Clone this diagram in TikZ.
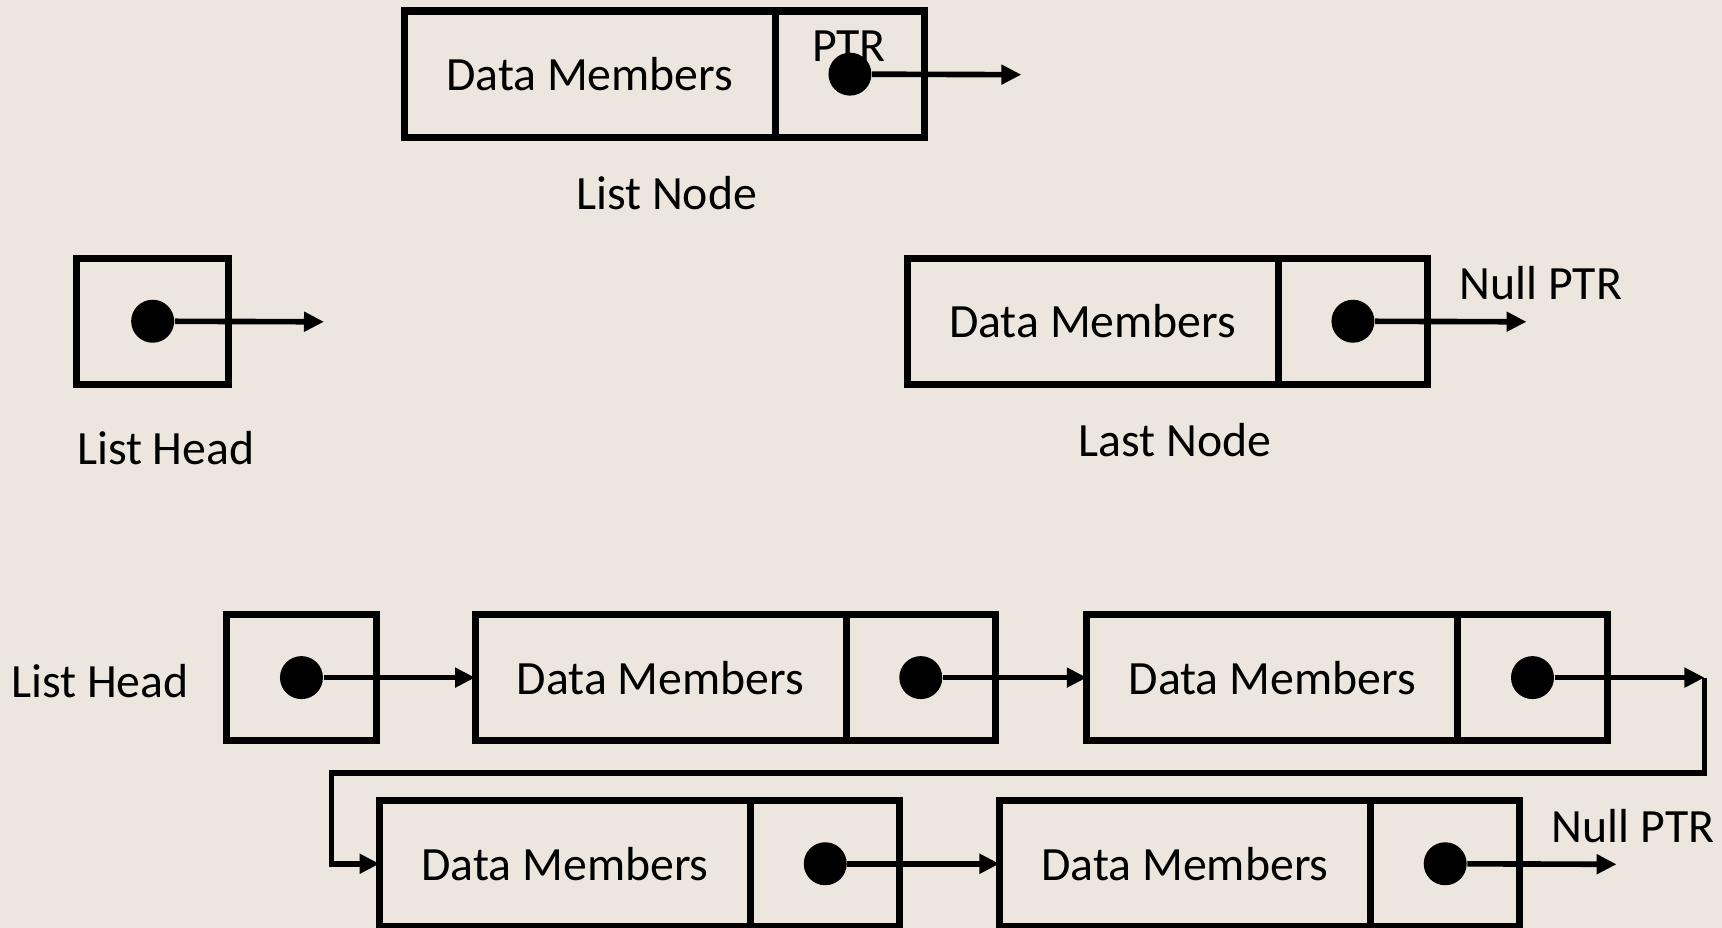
\documentclass[tikz,border=0pt]{standalone}
\usepackage{fontspec}
\setmainfont{Carlito}
\usetikzlibrary{positioning,arrows.meta}
\definecolor{slidebg}{RGB}{237,230,223}

\begin{document}
\begin{tikzpicture}[x=0.010982cm, y=-0.010982cm,
    every node/.style={font=\fontsize{13.6}{16}\selectfont},
    datacell/.style={draw, line width=2pt, outer sep=0pt, minimum width=3.712cm, minimum height=1.263cm, inner sep=0pt},
    ptrcell/.style={draw, line width=2pt, outer sep=0pt, minimum width=1.494cm, minimum height=1.263cm, inner sep=0pt},
    dot/.style={circle, fill, inner sep=0pt, minimum size=0.43cm},
    link/.style={line width=1.6pt, -{Triangle[length=0.2cm, width=0.19cm]}}]

    \fill[slidebg] (0,0) rectangle (1568,845);
    \useasboundingbox (0,0) rectangle (1568,845);

    % a single list node
    \node[datacell] (ln-data) at (537,67.5) {Data Members};
    \node[ptrcell, right=0pt of ln-data] (ln-ptr) {};
    \node (ln-ptrtext) at (773,42) {PTR};
    \node[dot] (ln-dot) at (ln-ptr) {};
    \coordinate (ln-end) at (930,68);
    \draw[link] (ln-dot) -- (ln-end);
    \node (ln-label) at (607,176) {List Node};

    % list head
    \node[ptrcell, minimum width=1.515cm] (lh-box) at (139,292.5) {};
    \node[dot] (lh-dot) at (lh-box) {};
    \coordinate (lh-end) at (295,293);
    \draw[link] (lh-dot) -- (lh-end);
    \node (lh-label) at (151,408) {List Head};

    % last node
    \node[datacell] (la-data) at (995,292.5) {Data Members};
    \node[ptrcell, right=0pt of la-data] (la-ptr) {};
    \node[dot] (la-dot) at (la-ptr) {};
    \coordinate (la-end) at (1390,293);
    \draw[link] (la-dot) -- (la-end);
    \node (la-null) at (1403,258) {Null PTR};
    \node (la-label) at (1070,401) {Last Node};

    % whole list
    \node (hd-label) at (91,620) {List Head};
    \node[ptrcell, minimum width=1.504cm] (hd-box) at (274.5,617) {};
    \node[dot] (hd-dot) at (hd-box) {};

    \node[datacell] (n1-data) at (601.5,617) {Data Members};
    \node[ptrcell, right=0pt of n1-data] (n1-ptr) {};
    \node[dot] (n1-dot) at (n1-ptr) {};

    \node[datacell] (n2-data) at (1158.5,617) {Data Members};
    \node[ptrcell, right=0pt of n2-data] (n2-ptr) {};
    \node[dot] (n2-dot) at (n2-ptr) {};

    \node[datacell] (n3-data) at (514.5,786.5) {Data Members};
    \node[ptrcell, right=0pt of n3-data] (n3-ptr) {};
    \node[dot] (n3-dot) at (n3-ptr) {};

    \node[datacell] (n4-data) at (1079,786.5) {Data Members};
    \node[ptrcell, right=0pt of n4-data] (n4-ptr) {};
    \node[dot] (n4-dot) at (n4-ptr) {};

    \draw[link] (hd-dot) -- (n1-data);
    \draw[link] (n1-dot) -- (n2-data);

    \coordinate (turn) at (1552,617);
    \coordinate (bend1) at (1552,704);
    \coordinate (bend2) at (302,704);
    \draw[link] (n2-dot) -- (turn);
    \draw[link] (turn) -- (bend1) -- (bend2) |- (n3-data.west);

    \draw[link] (n3-dot) -- (n4-data);
    \coordinate (n4-end) at (1472,787);
    \draw[link] (n4-dot) -- (n4-end);
    \node (n4-null) at (1487,752) {Null PTR};

  \end{tikzpicture}
\end{document}
